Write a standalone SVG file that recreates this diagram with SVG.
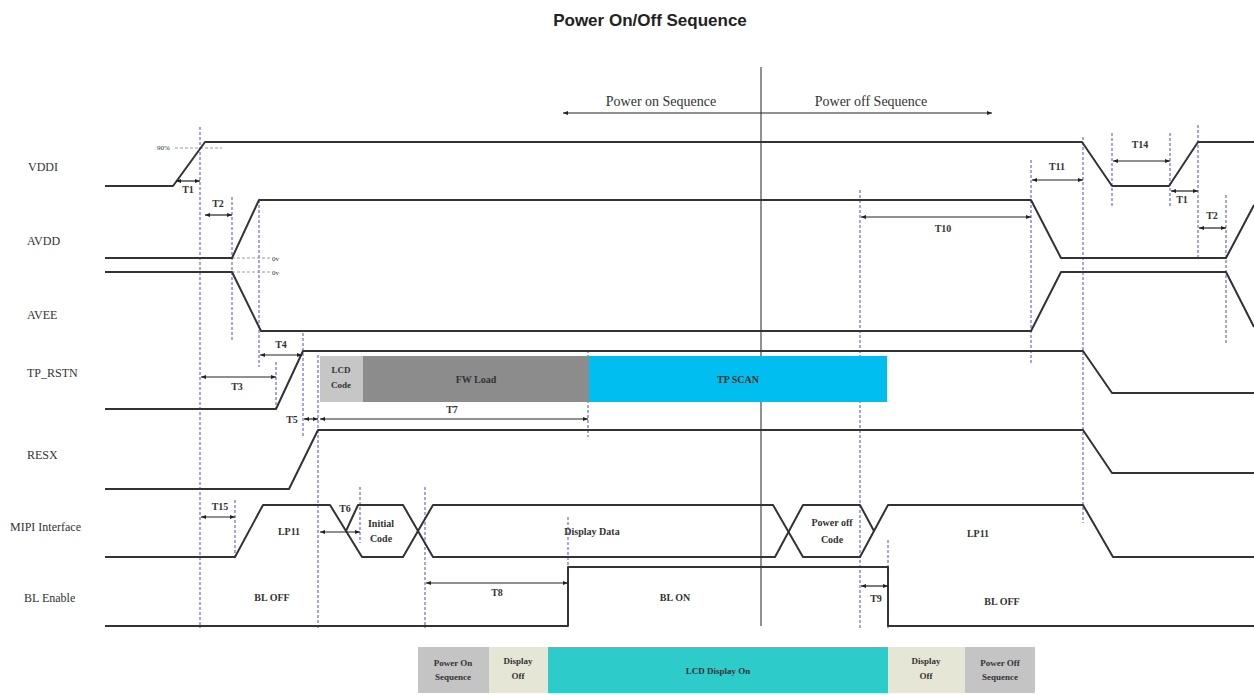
<svg xmlns="http://www.w3.org/2000/svg" width="1254" height="695" viewBox="0 0 1254 695">
<style>
.sig{fill:none;stroke:#333;stroke-width:2;stroke-linejoin:round}
.vd{stroke:#6b6bd6;stroke-width:1.2;stroke-dasharray:3,2;fill:none}
.gd{stroke:#999;stroke-width:1;stroke-dasharray:3,2}
.dim{stroke:#222;stroke-width:1.2;marker-start:url(#ah);marker-end:url(#ah)}
.lbl{font-family:"Liberation Serif",serif;font-size:12px;fill:#333}
.t{font-family:"Liberation Serif",serif;font-size:10px;font-weight:bold;fill:#333;text-anchor:middle}
.bx{font-family:"Liberation Serif",serif;font-size:9px;font-weight:bold;fill:#333;text-anchor:middle}
.seq{font-family:"Liberation Serif",serif;font-size:14px;fill:#333;text-anchor:middle}
.tiny{font-family:"Liberation Serif",serif;font-size:7px;fill:#333}
</style>
<defs>
<marker id="ah" viewBox="0 0 10 10" refX="10" refY="5" markerWidth="4.5" markerHeight="4.5" orient="auto-start-reverse"><path d="M0,1 L10,5 L0,9 z" fill="#222"/></marker>
</defs>
<rect width="1254" height="695" fill="#fff"/>
<text x="650" y="26" text-anchor="middle" font-family="Liberation Sans, Arial, sans-serif" font-size="17" font-weight="bold" fill="#222">Power On/Off Sequence</text>

<g id="sequence-header">
<line x1="761" y1="67" x2="761" y2="626" stroke="#222" stroke-width="1"/>
<line x1="563" y1="113" x2="992" y2="113" class="dim" stroke-width="1.5"/>
<text x="661" y="106" class="seq">Power on Sequence</text>
<text x="871" y="106" class="seq">Power off Sequence</text>
</g>

<g id="signal-labels">
<text x="28" y="171" class="lbl">VDDI</text>
<text x="27" y="245" class="lbl">AVDD</text>
<text x="27" y="319" class="lbl">AVEE</text>
<text x="27" y="377" class="lbl">TP_RSTN</text>
<text x="27" y="459" class="lbl">RESX</text>
<text x="10" y="531" class="lbl">MIPI Interface</text>
<text x="24" y="602" class="lbl">BL Enable</text>
</g>

<g id="guides">
<line x1="200" y1="127" x2="200" y2="628" class="vd"/>
<line x1="232" y1="197" x2="232" y2="340" class="vd"/>
<line x1="259" y1="200" x2="259" y2="367" class="vd"/>
<line x1="276" y1="362" x2="276" y2="408" class="vd"/>
<line x1="303" y1="333" x2="303" y2="437" class="vd"/>
<line x1="318" y1="355" x2="318" y2="628" class="vd"/>
<line x1="235" y1="500" x2="235" y2="557" class="vd"/>
<line x1="360" y1="487" x2="360" y2="543" class="vd"/>
<line x1="425" y1="487" x2="425" y2="628" class="vd"/>
<line x1="588" y1="350" x2="588" y2="437" class="vd"/>
<line x1="568" y1="517" x2="568" y2="565" class="vd"/>
<line x1="860" y1="190" x2="860" y2="628" class="vd"/>
<line x1="888" y1="540" x2="888" y2="628" class="vd"/>
<line x1="1031" y1="160" x2="1031" y2="363" class="vd"/>
<line x1="1083" y1="137" x2="1083" y2="523" class="vd"/>
<line x1="1112" y1="133" x2="1112" y2="207" class="vd"/>
<line x1="1170" y1="133" x2="1170" y2="207" class="vd"/>
<line x1="1198" y1="125" x2="1198" y2="260" class="vd"/>
<line x1="1226" y1="195" x2="1226" y2="345" class="vd"/>
<line x1="175" y1="148" x2="222" y2="148" class="gd"/>
<text x="157" y="150" class="tiny">90%</text>
<line x1="232" y1="258" x2="270" y2="258" class="gd"/>
<line x1="232" y1="272" x2="270" y2="272" class="gd"/>
<text x="272" y="261" class="tiny">0v</text>
<text x="272" y="275" class="tiny">0v</text>
</g>

<g id="tp-boxes">
<rect x="320" y="356" width="43" height="46" fill="#c6c6c6"/>
<rect x="363" y="356" width="226" height="46" fill="#8c8c8c"/>
<rect x="589" y="356" width="298" height="46" fill="#00bff0"/>
<text x="341" y="373" class="bx">LCD</text>
<text x="341" y="388" class="bx">Code</text>
<text x="476" y="383" class="t">FW Load</text>
<text x="738" y="383" class="t">TP SCAN</text>
</g>

<g id="signals">
<path id="VDDI" class="sig" d="M105,186 H173 L205,142 H1082 L1112,186 H1169 L1198,142 H1254"/>
<path id="AVDD" class="sig" d="M105,258 H232 L259,200 H1031 L1061,258 H1226 L1254,205"/>
<path id="AVEE" class="sig" d="M105,272 H232 L261,331 H1031 L1061,272 H1226 L1254,327"/>
<path id="TP_RSTN" class="sig" d="M105,409 H276 L303,351 H1083 L1112,393 H1254"/>
<path id="RESX" class="sig" d="M105,489 H289 L318,430 H1083 L1112,473 H1254"/>
<path id="MIPI" class="sig" d="M105,557 H235 L263,505 H330 L362,557 H403 L433,505 H773 L803,557 H860 L888,505 H1083 L1113,557 H1254"/>
<path id="MIPI2" class="sig" d="M346,531 L358,505 H403 L433,557 H775 L803,505 H860 L874,531"/>
<path id="BL" class="sig" d="M105,626 H568 V567 H888 V626 H1254"/>
</g>

<g id="signal-texts">
<text x="289" y="535" class="t">LP11</text>
<text x="381" y="527" class="t">Initial</text>
<text x="381" y="542" class="t">Code</text>
<text x="592" y="535" class="t">Display Data</text>
<text x="832" y="526" class="t">Power off</text>
<text x="832" y="543" class="t">Code</text>
<text x="978" y="537" class="t">LP11</text>
<text x="272" y="601" class="t">BL OFF</text>
<text x="675" y="601" class="t">BL ON</text>
<text x="1002" y="605" class="t">BL OFF</text>
</g>

<g id="connectors">
<line x1="176" y1="181" x2="200" y2="181" class="dim"/><text x="188" y="193" class="t">T1</text>
<line x1="205" y1="215" x2="232" y2="215" class="dim"/><text x="218" y="207" class="t">T2</text>
<line x1="201" y1="377" x2="276" y2="377" class="dim"/><text x="237" y="390" class="t">T3</text>
<line x1="260" y1="355" x2="302" y2="355" class="dim"/><text x="281" y="348" class="t">T4</text>
<line x1="304" y1="419" x2="318" y2="419" class="dim"/><text x="292" y="423" class="t">T5</text>
<line x1="320" y1="419" x2="588" y2="419" class="dim"/><text x="452" y="413" class="t">T7</text>
<line x1="201" y1="517" x2="235" y2="517" class="dim"/><text x="220" y="510" class="t">T15</text>
<line x1="320" y1="532" x2="360" y2="532" class="dim"/><text x="345" y="512" class="t">T6</text>
<line x1="426" y1="583" x2="568" y2="583" class="dim"/><text x="497" y="596" class="t">T8</text>
<line x1="861" y1="586" x2="888" y2="586" class="dim"/><text x="876" y="602" class="t">T9</text>
<line x1="861" y1="217" x2="1031" y2="217" class="dim"/><text x="943" y="232" class="t">T10</text>
<line x1="1032" y1="180" x2="1083" y2="180" class="dim"/><text x="1057" y="170" class="t">T11</text>
<line x1="1113" y1="161" x2="1170" y2="161" class="dim"/><text x="1140" y="148" class="t">T14</text>
<line x1="1171" y1="191" x2="1198" y2="191" class="dim"/><text x="1182" y="203" class="t">T1</text>
<line x1="1199" y1="228" x2="1226" y2="228" class="dim"/><text x="1212" y="219" class="t">T2</text>
</g>

<g id="phase-bar">
<rect x="418" y="647" width="71" height="46" fill="#c4c4c4"/>
<rect x="489" y="647" width="59" height="46" fill="#e6e6d6"/>
<rect x="548" y="647" width="340" height="46" fill="#2ecbcb"/>
<rect x="888" y="647" width="77" height="46" fill="#e6e6d6"/>
<rect x="965" y="647" width="70" height="46" fill="#c4c4c4"/>
<text x="453" y="666" class="bx">Power On</text>
<text x="453" y="680" class="bx">Sequence</text>
<text x="518" y="664" class="bx">Display</text>
<text x="518" y="679" class="bx">Off</text>
<text x="718" y="674" class="bx">LCD Display On</text>
<text x="926" y="664" class="bx">Display</text>
<text x="926" y="679" class="bx">Off</text>
<text x="1000" y="666" class="bx">Power Off</text>
<text x="1000" y="680" class="bx">Sequence</text>
</g>
</svg>
